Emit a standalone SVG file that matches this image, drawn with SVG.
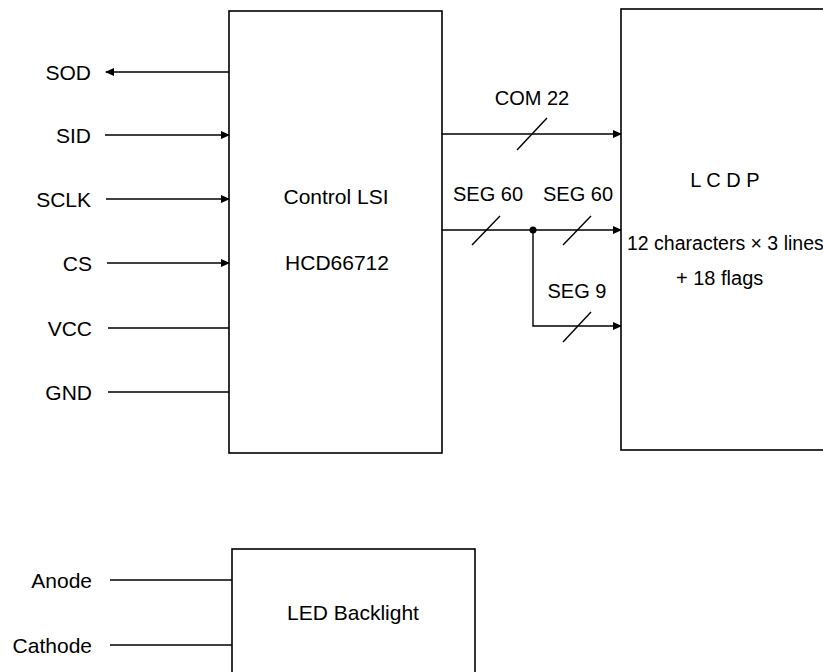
<svg xmlns="http://www.w3.org/2000/svg" width="823" height="672" viewBox="0 0 823 672">
<style>
  .box{fill:#fff;stroke:#000;stroke-width:1.6}
  .ln{fill:none;stroke:#000;stroke-width:1.4}
  .sl{fill:none;stroke:#000;stroke-width:1.4}
  text{font-family:"Liberation Sans",Arial,sans-serif;fill:#000;dominant-baseline:central}
  .pin{font-size:21px;text-anchor:end}
  .mid{font-size:20px;text-anchor:middle}
  .chip{font-size:21px;text-anchor:middle}
</style>
<defs>
  <marker id="arr" markerUnits="userSpaceOnUse" markerWidth="9" markerHeight="8" refX="8" refY="4" orient="auto">
    <path d="M0,0 L9,4 L0,8 Z" fill="#000"/>
  </marker>
</defs>
<rect width="823" height="672" fill="#fff"/>

<g id="control-lsi">
  <rect class="box" x="229" y="11" width="213" height="442"/>
  <text class="chip" x="336" y="196">Control LSI</text>
  <text class="chip" x="337" y="262">HCD66712</text>
</g>

<g id="lcdp">
  <rect class="box" x="621" y="9" width="210" height="441"/>
  <text class="mid" x="725" y="180">L C D P</text>
  <text x="627" y="243" style="font-size:19.5px">12 characters × 3 lines</text>
  <text x="676" y="278" style="font-size:20px">+  18 flags</text>
</g>

<g id="led-backlight">
  <rect class="box" x="232" y="549" width="243" height="130"/>
  <text class="chip" x="353" y="612">LED Backlight</text>
</g>

<g id="pin-sod"><text class="pin" x="91" y="72">SOD</text></g>
<g id="pin-sid"><text class="pin" x="91" y="135">SID</text></g>
<g id="pin-sclk"><text class="pin" x="91" y="199">SCLK</text></g>
<g id="pin-cs"><text class="pin" x="92" y="263">CS</text></g>
<g id="pin-vcc"><text class="pin" x="92" y="328">VCC</text></g>
<g id="pin-gnd"><text class="pin" x="92" y="392">GND</text></g>
<g id="pin-anode"><text class="pin" x="92" y="580">Anode</text></g>
<g id="pin-cathode"><text class="pin" x="92" y="645">Cathode</text></g>

<g id="connectors">
  <line class="ln" x1="229" y1="72" x2="106" y2="72" marker-end="url(#arr)"/>
  <line class="ln" x1="105" y1="135" x2="229" y2="135" marker-end="url(#arr)"/>
  <line class="ln" x1="106" y1="199" x2="229" y2="199" marker-end="url(#arr)"/>
  <line class="ln" x1="107" y1="263" x2="229" y2="263" marker-end="url(#arr)"/>
  <line class="ln" x1="108" y1="328" x2="229" y2="328"/>
  <line class="ln" x1="108" y1="392" x2="229" y2="392"/>
  <line class="ln" x1="110" y1="580" x2="232" y2="580"/>
  <line class="ln" x1="110" y1="645" x2="232" y2="645"/>

  <line class="ln" x1="442" y1="134" x2="621" y2="134" marker-end="url(#arr)"/>
  <line class="sl" x1="517" y1="150" x2="547" y2="118"/>
  <text class="mid" x="532" y="98">COM 22</text>

  <line class="ln" x1="442" y1="230" x2="621" y2="230" marker-end="url(#arr)"/>
  <line class="sl" x1="472" y1="245" x2="500" y2="216"/>
  <line class="sl" x1="563" y1="245" x2="591" y2="216"/>
  <circle cx="533" cy="230" r="3.5" fill="#000"/>
  <text class="mid" x="488" y="194">SEG 60</text>
  <text class="mid" x="578" y="194">SEG 60</text>

  <polyline class="ln" points="533,230 533,326 621,326" marker-end="url(#arr)"/>
  <line class="sl" x1="563" y1="342" x2="591" y2="312"/>
  <text class="mid" x="577" y="291">SEG 9</text>
</g>
</svg>
